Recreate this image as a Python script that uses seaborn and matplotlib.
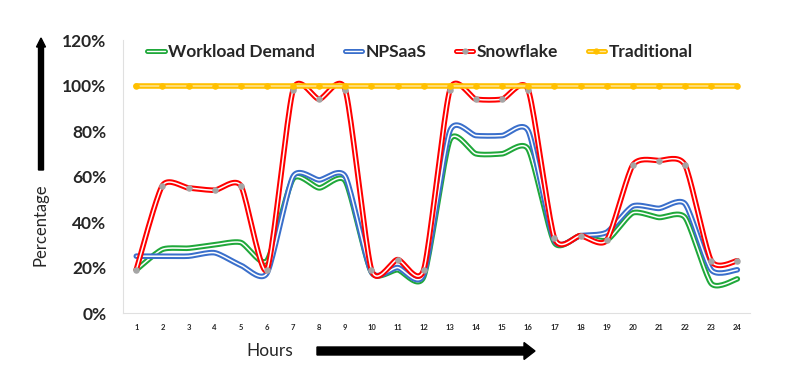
import numpy as np
import pandas as pd
import matplotlib
matplotlib.use('Agg')
import matplotlib.pyplot as plt
import seaborn as sns
from matplotlib.lines import Line2D
from matplotlib.legend_handler import HandlerTuple
from matplotlib.patches import FancyArrow

# data (percent)
hours = list(range(1, 25))
workload = [19, 28, 28.5, 30, 31, 23, 59, 55, 58, 18, 19, 16, 76, 70, 70, 72, 31, 34, 32, 44, 42, 42, 13, 15]
npsaas = [25, 25, 25, 26.5, 21, 17.5, 60, 58.5, 60, 18, 20, 17, 80, 78, 78, 80, 32, 34, 35.5, 47, 46, 48, 19, 19]
snowflake = [19, 56, 55, 54, 56, 19, 98, 94, 98, 19, 23.5, 19, 98, 94, 94, 98, 33, 34, 32, 65, 67, 65, 23, 23]
traditional = [100] * 24

sns.set_theme(style='white')
plt.rcParams['font.family'] = ['Lato', 'DejaVu Sans']


def smooth(x, y, n=20, k=9):
    # smoothed line through the points (bezier, like Excel's "smoothed line")
    x = np.asarray(x, float)
    y = np.asarray(y, float)
    px = np.concatenate([[x[0]], x, [x[-1]]])
    py = np.concatenate([[y[0]], y, [y[-1]]])
    xs, ys = [], []
    t = np.linspace(0, 1, n, endpoint=False)
    for i in range(1, len(px) - 2):
        p0, p1, p2, p3 = [np.array([px[j], py[j]]) for j in (i - 1, i, i + 1, i + 2)]
        c1 = p1 + (p2 - p0) / k
        c2 = p2 - (p3 - p1) / k
        b = (np.outer((1 - t) ** 3, p1) + np.outer(3 * (1 - t) ** 2 * t, c1)
             + np.outer(3 * (1 - t) * t ** 2, c2) + np.outer(t ** 3, p2))
        xs.extend(b[:, 0])
        ys.extend(b[:, 1])
    xs.append(x[-1])
    ys.append(y[-1])
    return np.array(xs), np.array(ys)


fig = plt.figure(figsize=(8, 3.74), dpi=100)
ax = fig.add_axes([0.154, 0.163, 0.784, 0.73])

series = [
    ('Workload Demand', workload, '#1FA83A', 'white', None),
    ('NPSaaS', npsaas, '#3A6FCB', 'white', None),
    ('Snowflake', snowflake, '#FF0000', 'white', '#A5A5A5'),
    ('Traditional', traditional, '#FFC000', '#FFE699', '#FFC000'),
]

for name, vals, col, inner, mcol in series:
    sx, sy = smooth(hours, vals)
    sns.lineplot(x=sx, y=sy, ax=ax, color=col, lw=4.0, sort=False, estimator=None)
    sns.lineplot(x=sx, y=sy, ax=ax, color=inner, lw=1.1, sort=False, estimator=None)
    if mcol is not None:
        sns.scatterplot(x=hours, y=vals, ax=ax, color=mcol, s=22, linewidth=0, zorder=5)

ax.set_xlim(0.5, 24.5)
ax.set_ylim(0, 120)
ax.set_xticks(hours)
ax.set_xticklabels([str(h) for h in hours], fontsize=5.5, fontweight='bold')
ax.set_yticks(range(0, 121, 20))
ax.set_yticklabels([f'{v}%' for v in range(0, 121, 20)], fontsize=12.5, fontweight='bold')
ax.tick_params(axis='y', pad=12, length=0)
ax.tick_params(axis='x', pad=8, length=0)
ax.set_xlabel('')
ax.set_ylabel('')
for s in ['top', 'right']:
    ax.spines[s].set_visible(False)
for s in ['left', 'bottom']:
    ax.spines[s].set_color('#E0E0E0')
    ax.spines[s].set_linewidth(0.8)

# legend
handles = []
for name, vals, col, inner, mcol in series:
    handles.append((Line2D([], [], color=col, lw=3.6), Line2D([], [], color=inner, lw=1.0),
                    Line2D([], [], ls='', marker='o', color=mcol if mcol else col, ms=3.5 if mcol else 0)))
fig.legend(handles, [s[0] for s in series], loc='center', bbox_to_anchor=(0.525, 0.862),
           ncol=4, frameon=False, handlelength=1.0, handletextpad=0.2, columnspacing=1.7,
           prop={'size': 12.5, 'weight': 'bold'},
           handler_map={tuple: HandlerTuple(ndivide=1, pad=0)})

# axis titles with arrows
fig.text(40 / 800, 1 - 225 / 374, 'Percentage', rotation=90, ha='center', va='center', fontsize=12)
fig.text(270 / 800, 1 - 351 / 374, 'Hours', ha='center', va='center', fontsize=12.5)
ax2 = fig.add_axes([0, 0, 1, 1], facecolor='none')
ax2.set_axis_off()
ax2.set_xlim(0, 800)
ax2.set_ylim(374, 0)
ax2.add_patch(FancyArrow(317, 351, 218, 0, width=8, head_width=17, head_length=11,
                         length_includes_head=True, color='black'))
ax2.add_patch(FancyArrow(41, 170, 0, -132, width=5, head_width=9, head_length=9,
                         length_includes_head=True, color='black'))

fig.savefig('out.png', dpi=100)
